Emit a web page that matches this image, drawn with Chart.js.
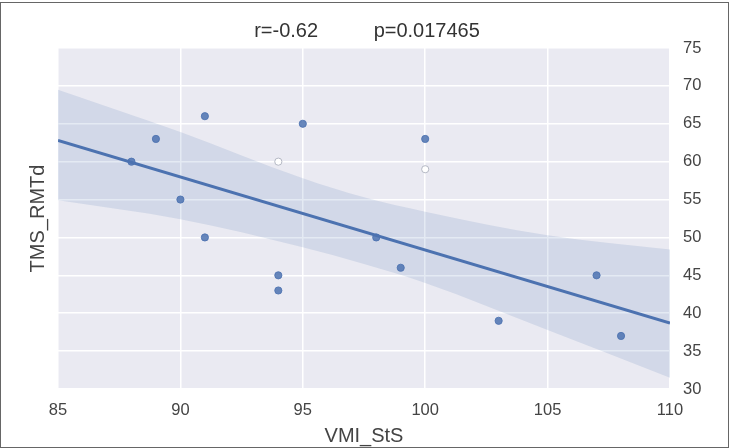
<!DOCTYPE html>
<html>
<head>
<meta charset="utf-8">
<script src="https://cdn.jsdelivr.net/npm/chart.js@4.4.1/dist/chart.umd.min.js"></script>
<style>
  body { margin: 0; background: #fff; }
  #wrap { position: relative; width: 734px; height: 448px; }
  #frame { position: absolute; left: 0; top: 2px; width: 727px; height: 444px; border: 1.5px solid #666; pointer-events: none; }
</style>
</head>
<body>
<div id="wrap">
  <canvas id="chart" width="734" height="448"></canvas>
  <div id="frame"></div>
</div>
<script>
// points used in the fit
const vmiFilled = [88, 89, 90, 91, 91, 94, 94, 95, 98, 99, 100, 103, 107, 108];
const rmtFilled = [60, 63, 55, 66, 50, 45, 43, 65, 50, 46, 63, 39, 45, 37];
// hollow markers (left out of the fit)
const vmiOpen = [94, 100];
const rmtOpen = [60, 59];
// regression line and its confidence band
const fitX = [85, 110];
const fitY = [62.8, 38.7];
const bandX = [85, 90, 95, 97.5, 100, 105, 110];
const bandUpper = [69.5, 63.9, 57.8, 55.3, 53.4, 50.3, 48.4];
const bandLower = [54.9, 52.4, 48.7, 46.5, 44.0, 37.8, 31.5];

const titleText = 'r=-0.62          p=0.017465';
const blue = '#4C72B0';
const font = 'Liberation Sans, Arial, sans-serif';

function pairs(xs, ys) {
    return xs.map((x, i) => ({ x: x, y: ys[i] }));
}

const plotBackground = {
    id: 'plotBackground',
    beforeDraw(chart) {
        const a = chart.chartArea;
        const ctx = chart.ctx;
        ctx.save();
        ctx.fillStyle = '#EAEAF2';
        ctx.fillRect(a.left, a.top, a.right - a.left, a.bottom - a.top);
        ctx.restore();
    }
};

new Chart(document.getElementById('chart'), {
    type: 'scatter',
    data: {
        datasets: [
            {
                label: 'fit',
                data: pairs(fitX, fitY),
                showLine: true,
                borderColor: blue,
                borderWidth: 3.2,
                pointRadius: 0,
                order: 0
            },
            {
                label: 'points',
                data: pairs(vmiFilled, rmtFilled),
                backgroundColor: 'rgba(76,114,176,0.85)',
                borderColor: 'rgba(76,114,176,0.85)',
                pointRadius: 3.6,
                order: 1
            },
            {
                label: 'excluded',
                data: pairs(vmiOpen, rmtOpen),
                backgroundColor: '#ffffff',
                borderColor: '#b4b8c4',
                borderWidth: 1,
                pointRadius: 3.6,
                order: 1
            },
            {
                label: 'upper',
                data: pairs(bandX, bandUpper),
                showLine: true,
                borderWidth: 0,
                borderColor: 'rgba(0,0,0,0)',
                backgroundColor: 'rgba(76,114,176,0.15)',
                pointRadius: 0,
                tension: 0.4,
                cubicInterpolationMode: 'monotone',
                fill: '+1',
                order: 2
            },
            {
                label: 'lower',
                data: pairs(bandX, bandLower),
                showLine: true,
                borderWidth: 0,
                borderColor: 'rgba(0,0,0,0)',
                pointRadius: 0,
                tension: 0.4,
                cubicInterpolationMode: 'monotone',
                fill: false,
                order: 2
            }
        ]
    },
    options: {
        responsive: false,
        animation: false,
        events: [],
        layout: { padding: 0 },
        plugins: {
            legend: { display: false },
            tooltip: { enabled: false },
            title: {
                display: true,
                text: titleText,
                color: '#333',
                font: { family: font, size: 20, weight: 'normal' },
                padding: { top: 19, bottom: 5 }
            }
        },
        scales: {
            x: {
                type: 'linear',
                min: 85,
                max: 110,
                ticks: { stepSize: 5, color: '#444', font: { family: font, size: 16.5 }, padding: 12 },
                grid: { color: '#ffffff', lineWidth: 1.5, drawTicks: false },
                border: { display: false },
                title: { display: true, text: 'VMI_StS', color: '#444', font: { family: font, size: 20 }, padding: { top: -1, bottom: 0 } },
                afterFit: s => { s.height = 59; }
            },
            y: {
                type: 'linear',
                position: 'right',
                min: 30,
                max: 75,
                ticks: { stepSize: 5, color: '#444', font: { family: font, size: 16.5 }, padding: 13 },
                grid: { color: '#ffffff', lineWidth: 1.5, drawTicks: false },
                border: { display: false },
                afterFit: s => { s.width = 64; }
            },
            yLabel: {
                type: 'linear',
                position: 'left',
                min: 0,
                max: 1,
                ticks: { display: false },
                grid: { display: false, drawTicks: false },
                border: { display: false },
                title: { display: true, text: 'TMS_RMTd', color: '#444', font: { family: font, size: 20 }, padding: { top: 26, bottom: 0 } },
                afterFit: s => { s.width = 58; }
            }
        }
    },
    plugins: [plotBackground]
});
</script>
</body>
</html>
